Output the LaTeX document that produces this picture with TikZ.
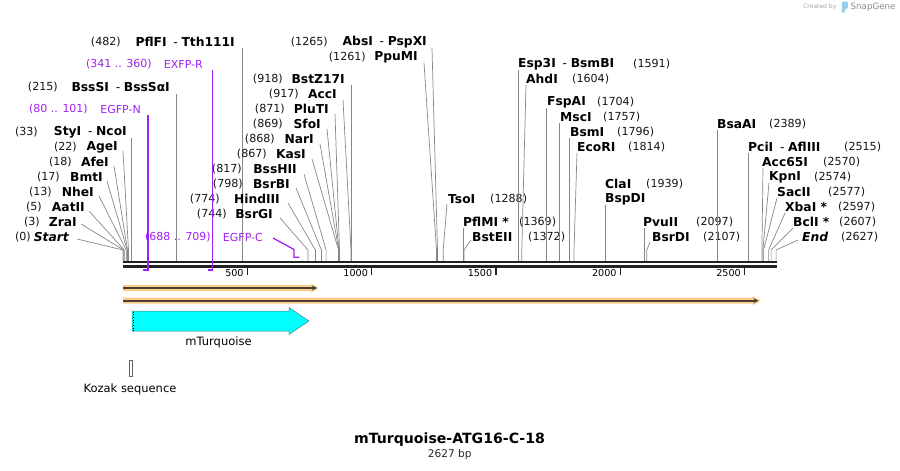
\documentclass[tikz,border=0pt]{standalone}
\usepackage{fontspec}
\setmainfont{DejaVu Sans}
\usetikzlibrary{arrows.meta}
\definecolor{primercol}{RGB}{160,32,240}
\definecolor{cutgray}{RGB}{135,135,135}
\definecolor{orfband}{RGB}{253,205,135}
\definecolor{orfline}{RGB}{72,64,52}
\definecolor{cyanfeat}{RGB}{0,255,255}
\definecolor{cyanedge}{RGB}{80,130,130}
\definecolor{rulerblack}{RGB}{34,34,34}
\definecolor{logoblue}{RGB}{150,205,235}
\newcommand{\enzsep}{\hspace{0.55em}{\mdseries -}\hspace{0.3em}}
\begin{document}
\begin{tikzpicture}[x=1pt,y=-1pt,
 num/.style={inner sep=0pt, font=\fontsize{11.1}{12}\selectfont, text=black!92},
 enz/.style={inner sep=0pt, font=\fontsize{12.3}{14}\selectfont\bfseries},
 cut/.style={draw=cutgray, line width=0.7pt},
 primer/.style={draw=primercol, line width=1.3pt},
 ptext/.style={inner sep=0pt, font=\fontsize{11}{13}\selectfont, text=primercol},
 ticklab/.style={inner sep=0pt, font=\fontsize{9.6}{11}\selectfont, anchor=east},
 feat/.style={inner sep=0pt, font=\fontsize{11.5}{13}\selectfont},
]
\useasboundingbox (0,0) rectangle (900,471);

% ---------- left group ----------
\node[num,anchor=east] (n0) at (31,237) {(0)};
\node[enz,anchor=east] (e0) at (69,237) {\itshape Start};
\draw[cut] ([shift={(8,2)}]e0.east) -- (123.0,250) -- (123.0,261);
\node[num,anchor=east] (n3) at (40,222) {(3)};
\node[enz,anchor=east] (e3) at (77,222) {ZraI};
\draw[cut] ([shift={(4,2)}]e3.east) -- (123.7,250) -- (123.7,261);
\node[num,anchor=east] (n5) at (42,207) {(5)};
\node[enz,anchor=east] (e5) at (85,207) {AatII};
\draw[cut] ([shift={(4,4)}]e5.east) -- (124.2,250) -- (124.2,261);
\node[num,anchor=east] (n13) at (52,192) {(13)};
\node[enz,anchor=east] (e13) at (94,192) {NheI};
\draw[cut] ([shift={(5,4)}]e13.east) -- (126.2,250) -- (126.2,261);
\node[num,anchor=east] (n17) at (60,177) {(17)};
\node[enz,anchor=east] (e17) at (103,177) {BmtI};
\draw[cut] ([shift={(4,4)}]e17.east) -- (127.2,250) -- (127.2,261);
\node[num,anchor=east] (n18) at (72,162) {(18)};
\node[enz,anchor=east] (e18) at (109,162) {AfeI};
\draw[cut] ([shift={(5,4)}]e18.east) -- (127.5,250) -- (127.5,261);
\node[num,anchor=east] (n22) at (77,147) {(22)};
\node[enz,anchor=east] (e22) at (118,147) {AgeI};
\draw[cut] ([shift={(5,4)}]e22.east) -- (128.5,250) -- (128.5,261);
\node[num,anchor=east] (n33) at (38,132) {(33)};
\node[enz,anchor=east] (e33) at (127,132) {StyI\enzsep NcoI};
\draw[cut] (131.2,138) -- (131.2,261);
\node[num,anchor=east] (n215) at (58,87) {(215)};
\node[enz,anchor=east] (e215) at (170,87) {BssSI\enzsep BssSαI};
\draw[cut] (176.4,94) -- (176.4,261);
\node[num,anchor=east] (n482) at (121,42) {(482)};
\node[enz,anchor=east] (e482) at (235,42) {PflFI\enzsep Tth111I};
\draw[cut] (242.8,48) -- (242.8,261);

% ---------- middle group ----------
\node[num,anchor=east] (n744) at (227,214) {(744)};
\node[enz,anchor=east] (e744) at (273,214) {BsrGI};
\draw[cut] ([shift={(7,4)}]e744.east) -- (308.0,250) -- (308.0,261);
\node[num,anchor=east] (n774) at (220,199) {(774)};
\node[enz,anchor=east] (e774) at (280,199) {HindIII};
\draw[cut] ([shift={(8,4)}]e774.east) -- (315.4,250) -- (315.4,261);
\node[num,anchor=east] (n798) at (243,184) {(798)};
\node[enz,anchor=east] (e798) at (290,184) {BsrBI};
\draw[cut] ([shift={(6,4)}]e798.east) -- (321.4,250) -- (321.4,261);
\node[num,anchor=east] (n817) at (242,169) {(817)};
\node[enz,anchor=east] (e817) at (297,169) {BssHII};
\draw[cut] ([shift={(7,5)}]e817.east) -- (326.1,250) -- (326.1,261);
\node[num,anchor=east] (n867) at (267,154) {(867)};
\node[enz,anchor=east] (e867) at (306,154) {KasI};
\draw[cut] ([shift={(6,5)}]e867.east) -- (338.5,250) -- (338.5,261);
\node[num,anchor=east] (n868) at (275,139) {(868)};
\node[enz,anchor=east] (e868) at (314,139) {NarI};
\draw[cut] ([shift={(6,5)}]e868.east) -- (338.8,250) -- (338.8,261);
\node[num,anchor=east] (n869) at (283,124) {(869)};
\node[enz,anchor=east] (e869) at (321,124) {SfoI};
\draw[cut] ([shift={(6,5)}]e869.east) -- (339.0,250) -- (339.0,261);
\node[num,anchor=east] (n871) at (285,109) {(871)};
\node[enz,anchor=east] (e871) at (329,109) {PluTI};
\draw[cut] ([shift={(6,5)}]e871.east) -- (339.5,250) -- (339.5,261);
\node[num,anchor=east] (n917) at (299,94) {(917)};
\node[enz,anchor=east] (e917) at (337,94) {AccI};
\draw[cut] ([shift={(6,6)}]e917.east) -- (351.0,250) -- (351.0,261);
\node[num,anchor=east] (n918) at (283,79) {(918)};
\node[enz,anchor=east] (e918) at (345,79) {BstZ17I};
\draw[cut] (351.2,85) -- (351.2,261);
\node[num,anchor=east] (n1261) at (366,57) {(1261)};
\node[enz,anchor=east] (e1261) at (418,57) {PpuMI};
\draw[cut] ([shift={(6,6)}]e1261.east) -- (436.5,250) -- (436.5,261);
\node[num,anchor=east] (n1265) at (328,42) {(1265)};
\node[enz,anchor=east] (e1265) at (427,42) {AbsI\enzsep PspXI};
\draw[cut] ([shift={(5,6)}]e1265.east) -- (437.5,250) -- (437.5,261);

% ---------- right group ----------
\node[enz,anchor=west] (e1288) at (448,199) {TsoI};
\node[num,anchor=west] (n1288) at (490,199) {(1288)};
\draw[cut] ([shift={(-1,5)}]e1288.west) -- (443.2,250) -- (443.2,261);
\node[enz,anchor=west] (e1369) at (463,222) {PflMI *};
\node[num,anchor=west] (n1369) at (519,222) {(1369)};
\draw[cut] (463.3,228) -- (463.3,261);
\node[enz,anchor=west] (e1372) at (472,237) {BstEII};
\node[num,anchor=west] (n1372) at (528,237) {(1372)};
\draw[cut] ([shift={(-1,3)}]e1372.west) -- (464.1,250) -- (464.1,261);
\node[enz,anchor=west] (e1591) at (518,64) {Esp3I\enzsep BsmBI};
\node[num,anchor=west] (n1591) at (633,64) {(1591)};
\draw[cut] (518.5,70) -- (518.5,261);
\node[enz,anchor=west] (e1604) at (526,79) {AhdI};
\node[num,anchor=west] (n1604) at (572,79) {(1604)};
\draw[cut] ([shift={(0,6)}]e1604.west) -- (521.8,250) -- (521.8,261);
\node[enz,anchor=west] (e1704) at (547,102) {FspAI};
\node[num,anchor=west] (n1704) at (597,102) {(1704)};
\draw[cut] (546.6,108) -- (546.6,261);
\node[enz,anchor=west] (e1757) at (560,117) {MscI};
\node[num,anchor=west] (n1757) at (603,117) {(1757)};
\draw[cut] (559.8,123) -- (559.8,261);
\node[enz,anchor=west] (e1796) at (570,132) {BsmI};
\node[num,anchor=west] (n1796) at (617,132) {(1796)};
\draw[cut] (569.5,138) -- (569.5,261);
\node[enz,anchor=west] (e1814) at (577,147) {EcoRI};
\node[num,anchor=west] (n1814) at (628,147) {(1814)};
\draw[cut] ([shift={(0,6)}]e1814.west) -- (574.0,250) -- (574.0,261);
\node[enz,anchor=west] (e1939) at (605,184) {ClaI};
\node[num,anchor=west] (n1939) at (646,184) {(1939)};
\node[enz,anchor=west] (e1939b) at (605,199) {BspDI};
\draw[cut] (605.0,205) -- (605.0,261);
\node[enz,anchor=west] (e2097) at (643,222) {PvuII};
\node[num,anchor=west] (n2097) at (696,222) {(2097)};
\draw[cut] (644.3,228) -- (644.3,261);
\node[enz,anchor=west] (e2107) at (652,237) {BsrDI};
\node[num,anchor=west] (n2107) at (703,237) {(2107)};
\draw[cut] ([shift={(-2,5)}]e2107.west) -- (646.8,250) -- (646.8,261);
\node[enz,anchor=west] (e2389) at (717,124) {BsaAI};
\node[num,anchor=west] (n2389) at (769,124) {(2389)};
\draw[cut] (716.9,130) -- (716.9,261);
\node[enz,anchor=west] (e2515) at (748,147) {PciI\enzsep AflIII};
\node[num,anchor=west] (n2515) at (844,147) {(2515)};
\draw[cut] (748.2,153) -- (748.2,261);
\node[enz,anchor=west] (e2570) at (762,162) {Acc65I};
\node[num,anchor=west] (n2570) at (823,162) {(2570)};
\draw[cut] ([shift={(1,6)}]e2570.west) -- (761.9,250) -- (761.9,261);
\node[enz,anchor=west] (e2574) at (769,177) {KpnI};
\node[num,anchor=west] (n2574) at (814,177) {(2574)};
\draw[cut] ([shift={(0,6)}]e2574.west) -- (762.9,250) -- (762.9,261);
\node[enz,anchor=west] (e2577) at (777,192) {SacII};
\node[num,anchor=west] (n2577) at (828,192) {(2577)};
\draw[cut] ([shift={(0,6)}]e2577.west) -- (763.6,250) -- (763.6,261);
\node[enz,anchor=west] (e2597) at (785,207) {XbaI *};
\node[num,anchor=west] (n2597) at (838,207) {(2597)};
\draw[cut] ([shift={(0,6)}]e2597.west) -- (768.6,250) -- (768.6,261);
\node[enz,anchor=west] (e2607) at (793,222) {BclI *};
\node[num,anchor=west] (n2607) at (839,222) {(2607)};
\draw[cut] ([shift={(0,6)}]e2607.west) -- (771.1,250) -- (771.1,261);
\node[enz,anchor=west] (e2627) at (802,237) {\itshape End};
\node[num,anchor=west] (n2627) at (841,237) {(2627)};
\draw[cut] ([shift={(-4,3)}]e2627.west) -- (776.1,250) -- (776.1,261);

% ---------- ruler ----------
\draw[rulerblack, line width=2.4pt] (123,262.2) -- (776.6,262.2);
\draw[rulerblack, line width=2.6pt] (123,266.4) -- (776.6,266.4);
\foreach \x/\l in {247.3/500, 371.6/1000, 495.9/1500, 620.2/2000, 744.5/2500} {
  \draw[rulerblack, line width=1.3pt] (\x,267) -- (\x,275);
  \node[ticklab] (t\l) at (\x-3.5,273.5) {\l};
}

% ---------- primers ----------
\node[ptext,anchor=east] (p1n) at (88,109) {(80 .. 101)};
\node[ptext,anchor=east] (p1) at (141,109) {EGFP-N};
\draw[primer] (148.1,115) -- (148.1,270) -- (142.9,270);
\node[ptext,anchor=east] (p2n) at (152,64) {(341 .. 360)};
\node[ptext,anchor=east] (p2) at (203,64) {EXFP-R};
\draw[primer] (212.3,70) -- (212.3,270) -- (207.8,270);
\node[ptext,anchor=east] (p3n) at (211,237) {(688 .. 709)};
\node[ptext,anchor=east] (p3) at (263,237) {EGFP-C};
\draw[primer] ([shift={(10,1)}]p3.east) -- (294,249.5) -- (294,257.3) -- (299.3,257.3);

% ---------- features ----------
\fill[orfband] (123,285) -- (311,285) -- (311,283.5) -- (318.5,288) -- (311,292.5) -- (311,291) -- (123,291) -- cycle;
\draw[orfline, line width=1.8pt, -{Stealth[length=5pt,width=5pt]}] (123,288) -- (317,288);
\fill[orfband] (123,297.7) -- (753,297.7) -- (753,296.2) -- (760.5,300.7) -- (753,305.2) -- (753,303.7) -- (123,303.7) -- cycle;
\draw[orfline, line width=1.8pt, -{Stealth[length=5pt,width=5pt]}] (123,300.7) -- (758.5,300.7);

\draw[fill=cyanfeat, draw=cyanedge, line width=0.5pt] (132,311) -- (289,311) -- (289,307.5) -- (309,321) -- (289,334.5) -- (289,331) -- (132,331) -- cycle;
\draw[black, dotted, line width=0.7pt] (133.6,311.5) -- (133.6,330.5);
\node[feat] (mturq) at (218.5,342) {mTurquoise};

\draw[draw=black!60, fill=white, line width=0.7pt] (129.4,360) rectangle (132.2,376.5);
\node[feat] (kozak) at (130,389) {Kozak sequence};

% ---------- title ----------
\node[inner sep=0pt, font=\fontsize{14.1}{16}\selectfont\bfseries] (title) at (449.5,440) {mTurquoise-ATG16-C-18};
\node[inner sep=0pt, font=\fontsize{10.6}{12}\selectfont, text=black!85] (bp) at (449.7,455) {2627 bp};

% ---------- watermark ----------
\node[inner sep=0pt, font=\fontsize{6}{7}\selectfont, text=black!35, anchor=east] (cb) at (836.5,7) {Created by};
\fill[logoblue, rounded corners=1pt] (841.8,1.5) -- (847.8,1.5) -- (847.8,8) -- (844.6,10) -- (844.6,13) -- (841.8,13) -- cycle;
\node[inner sep=0pt, font=\fontsize{8.7}{10}\selectfont, text=black!45, anchor=west] (sg) at (850.5,7) {SnapGene};
\end{tikzpicture}
\end{document}
